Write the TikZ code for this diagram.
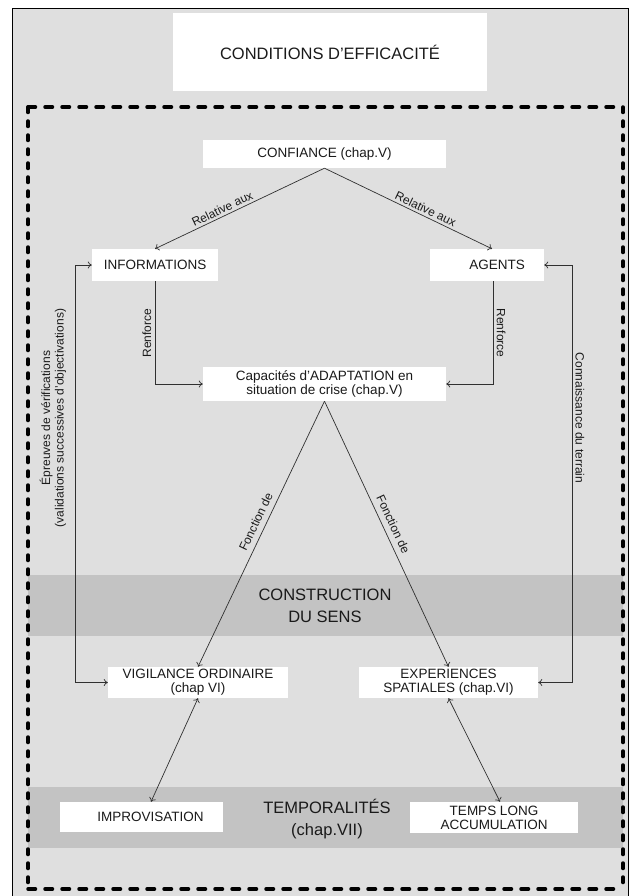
\documentclass[tikz,border=0pt]{standalone}
\usepackage{fontspec}
\setmainfont{Liberation Sans}
\usetikzlibrary{arrows.meta}
\definecolor{bglight}{HTML}{DFDFDF}
\definecolor{bandgray}{HTML}{C3C3C3}
\definecolor{linec}{HTML}{303030}
\definecolor{textc}{HTML}{1A1A1A}
\begin{document}
\begin{tikzpicture}[x=1pt,y=-1pt,
  box/.style={fill=white, inner sep=0pt, align=center, text=textc,
    font=\fontsize{13.5}{14}\selectfont},
  lab/.style={inner sep=1.5pt, text=textc, font=\fontsize{12}{13.5}\selectfont},
  arr/.style={draw=linec, line width=0.7pt, -{To[length=4pt,width=7pt]}},
  arrboth/.style={draw=linec, line width=0.7pt, {To[length=4pt,width=7pt]}-{To[length=4pt,width=7pt]}},
  dashh/.style={line width=3.5pt, line cap=round, dash pattern=on 7.5pt off 9.5pt},
  dashv/.style={line width=3.5pt, line cap=round, dash pattern=on 5.5pt off 8.5pt}]
\useasboundingbox (0,0) rectangle (629,896);
% background
\fill[white] (0,0) rectangle (629,896);
\fill[bglight] (12,8) rectangle (629,896);
\draw[line width=0.8pt] (12,896) -- (12,8) -- (628,8) -- (628,896);
% bands
\fill[bandgray] (28,575) rectangle (623,636);
\fill[bandgray] (28,787) rectangle (623,848);
% dashed frame
\draw[dashh] (28,107) -- (623,107);
\draw[dashh] (28,889) -- (623,889);
\draw[dashv] (28,107) -- (28,889);
\draw[dashv] (623,107) -- (623,889);
% band texts
\node[text=textc, align=center, font=\fontsize{16.5}{22}\selectfont] (constr) at (325,606) {CONSTRUCTION\\DU SENS};
\node[text=textc, align=center, font=\fontsize{16.5}{22}\selectfont] (tempo) at (327,819) {TEMPORALITÉS\\(chap.VII)};
% boxes
\node[box, minimum width=314pt, minimum height=78pt, font=\fontsize{16.5}{18}\selectfont] (title) at (330,52) {CONDITIONS D'EFFICACITÉ};
\node[box, minimum width=243pt, minimum height=28pt] (conf) at (324.5,154) {CONFIANCE (chap.V)};
\node[box, minimum width=126pt, minimum height=32pt] (info) at (155,265) {INFORMATIONS};
\node[box, minimum width=114pt, minimum height=32pt] (agents) at (487,265) {\hspace*{20pt}AGENTS};
\node[box, minimum width=243pt, minimum height=34pt] (cap) at (324.5,384) {Capacités d'ADAPTATION en\\situation de crise (chap.V)};
\node[box, minimum width=180pt, minimum height=31pt] (vig) at (198,682.5) {VIGILANCE ORDINAIRE\\(chap VI)};
\node[box, minimum width=179pt, minimum height=31pt] (exp) at (448.5,682.5) {EXPERIENCES\\SPATIALES (chap.VI)};
\node[box, minimum width=163pt, minimum height=30pt] (impro) at (141.5,817) {\hspace*{18pt}IMPROVISATION};
\node[box, minimum width=168pt, minimum height=31pt] (temps) at (494,817.5) {TEMPS LONG\\ACCUMULATION};
% connectors
\draw[arr] (conf.south) -- (info.north) node[lab, pos=0.585, sloped, above=1pt] {Relative aux};
\draw[arr] (conf.south) -- ([xshift=5pt]agents.north) node[lab, pos=0.585, sloped, above=1pt] {Relative aux};
\draw[arr] (info.south) |- (cap.west);
\draw[arr] ([xshift=6pt]agents.south) |- (cap.east);
\node[lab, rotate=90, anchor=south] (renf1) at (153,333) {Renforce};
\node[lab, rotate=-90, anchor=south] (renf2) at (495,333) {Renforce};
\draw[arr] (cap.south) -- (vig.north) node[lab, pos=0.47, sloped, above=4pt] {Fonction de};
\draw[arr] (cap.south) -- (exp.north) node[lab, pos=0.48, sloped, above=4pt] {Fonction de};
\draw[arrboth] (info.west) -- ++(-16,0) |- (vig.west);
\draw[arrboth] (agents.east) -- ++(28,0) |- (exp.east);
\node[lab, rotate=90, align=center] (epr) at (53,418) {Épreuves de vérifications\\(validations successives d'objectivations)};
\node[lab, rotate=-90] (conn) at (580,418) {Connaissance du terrain};
\draw[arrboth] (vig.south) -- ([xshift=9.5pt]impro.north);
\draw[arrboth] (exp.south) -- ([xshift=6pt]temps.north);
\end{tikzpicture}
\end{document}
